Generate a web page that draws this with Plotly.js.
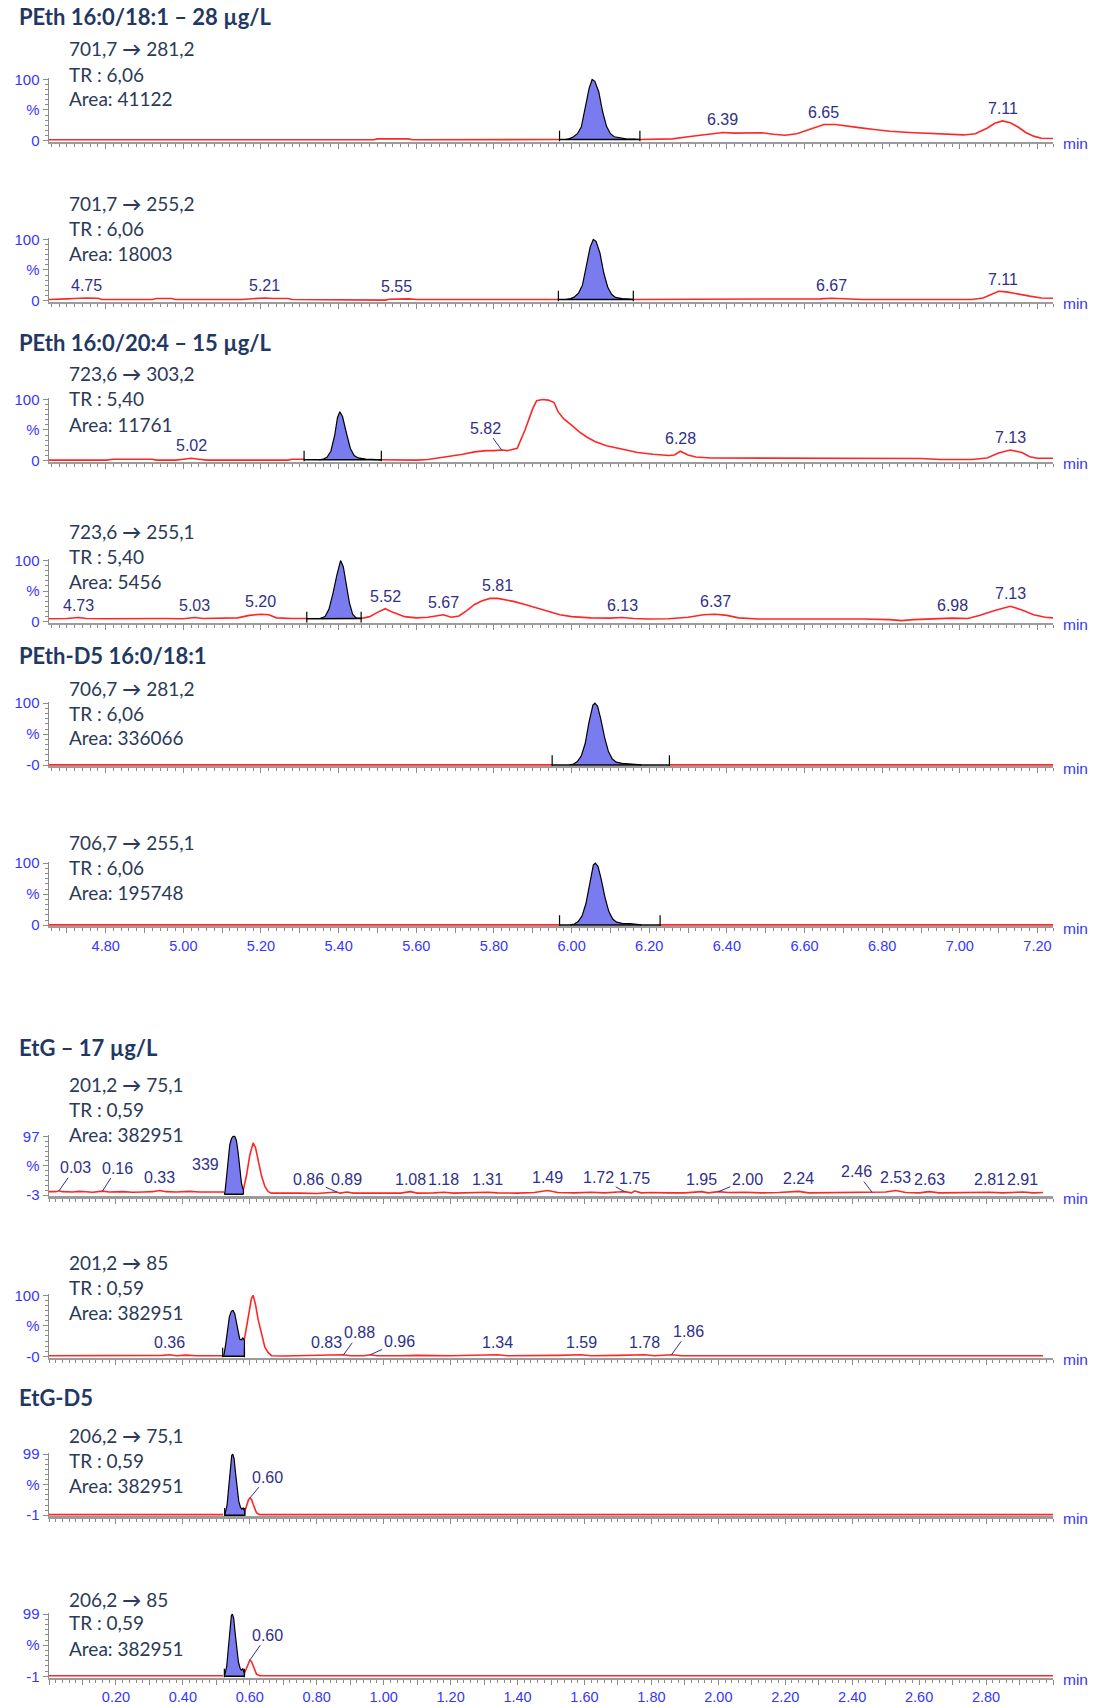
<!DOCTYPE html>
<html><head><meta charset="utf-8">
<script src="https://cdn.plot.ly/plotly-3.0.1.min.js"></script>
<style>html,body{margin:0;padding:0;background:#fff}#chart{width:1095px;height:1706px}</style>
</head><body><div id="chart"></div>
<script>
// ================= DATA =================
const titles = ["PEth 16:0/18:1 – 28 µg/L", "PEth 16:0/20:4 – 15 µg/L", "PEth-D5 16:0/18:1", "EtG – 17 µg/L", "EtG-D5"];

const peth_range = [4.654, 7.24];
const etg_range = [0, 3.0];
const peth_tick_labels = ["4.80","5.00","5.20","5.40","5.60","5.80","6.00","6.20","6.40","6.60","6.80","7.00","7.20"];
const etg_tick_labels = ["0.20","0.40","0.60","0.80","1.00","1.20","1.40","1.60","1.80","2.00","2.20","2.40","2.60","2.80"];

const p1_info = ["701,7 → 281,2", "TR : 6,06", "Area: 41122"];
const p2_info = ["701,7 → 255,2", "TR : 6,06", "Area: 18003"];
const p3_info = ["723,6 → 303,2", "TR : 5,40", "Area: 11761"];
const p4_info = ["723,6 → 255,1", "TR : 5,40", "Area: 5456"];
const p5_info = ["706,7 → 281,2", "TR : 6,06", "Area: 336066"];
const p6_info = ["706,7 → 255,1", "TR : 6,06", "Area: 195748"];
const p7_info = ["201,2 → 75,1", "TR : 0,59", "Area: 382951"];
const p8_info = ["201,2 → 85", "TR : 0,59", "Area: 382951"];
const p9_info = ["206,2 → 75,1", "TR : 0,59", "Area: 382951"];
const p10_info = ["206,2 → 85", "TR : 0,59", "Area: 382951"];

const p1_yticks = ["0","%","100"];
const p2_yticks = ["0","%","100"];
const p3_yticks = ["0","%","100"];
const p4_yticks = ["0","%","100"];
const p5_yticks = ["-0","%","100"];
const p6_yticks = ["0","%","100"];
const p7_yticks = ["-3","%","97"];
const p8_yticks = ["-0","%","100"];
const p9_yticks = ["-1","%","99"];
const p10_yticks = ["-1","%","99"];

// chromatogram traces [time, %]; null = integrated window
const p1_trace = [[4.654,1],[5.00,1],[5.30,1],[5.49,1],[5.50,2.5],[5.58,2.5],[5.59,1],[5.80,1],[5.93,1],[5.94,2],[5.95,1.5],[5.969,1.5],null,[6.176,1.5],[6.22,1.5],[6.26,2.5],[6.30,6],[6.34,9],[6.37,12],[6.39,13],[6.42,12],[6.46,12],[6.49,12.5],[6.52,10],[6.55,8.5],[6.58,11],[6.61,17],[6.63,22],[6.65,26],[6.68,26],[6.71,24],[6.74,21],[6.78,18],[6.82,15],[6.87,13],[6.92,12],[6.97,10],[7.01,9],[7.04,11],[7.07,20],[7.09,28],[7.11,32],[7.13,29],[7.15,22],[7.17,13],[7.19,7],[7.21,3.5],[7.24,3]];
const p1_peak = [[5.985,1.5],[5.995,3],[6.005,6],[6.015,11],[6.025,22],[6.035,52],[6.045,85],[6.053,100],[6.06,97],[6.07,80],[6.08,47],[6.09,23],[6.10,11],[6.11,6],[6.125,4],[6.14,2.5],[6.16,2],[6.176,1.5]];
const p1_window = [5.969, 6.176];
const p1_label_t = [6.39, 6.65, 7.11];

const p2_trace = [[4.654,1.5],[4.69,1.5],[4.70,2.5],[4.72,3],[4.75,4],[4.78,3.5],[4.79,1.5],[4.92,1.5],[4.93,3],[4.97,3],[4.98,1.5],[5.15,1.5],[5.18,2.5],[5.21,4],[5.23,3],[5.27,3],[5.28,1.5],[5.42,1.5],[5.43,0.5],[5.52,0.5],[5.53,2],[5.56,3],[5.58,2.5],[5.60,1.5],[5.66,1.5],[5.68,2.5],[5.72,2.5],[5.74,1.5],[5.90,1.5],[5.966,1.5],null,[6.159,1.5],[6.30,1.5],[6.42,1.5],[6.50,1.5],[6.60,1.5],[6.64,2.5],[6.67,3.5],[6.70,2.5],[6.75,1.5],[6.90,1.5],[7.03,1.5],[7.06,4],[7.08,10],[7.10,15],[7.12,14],[7.15,10],[7.18,7],[7.21,4],[7.24,3.5]];
const p2_peak = [[5.985,1.5],[5.998,3],[6.008,6],[6.018,12],[6.028,25],[6.038,55],[6.048,88],[6.056,100],[6.063,97],[6.073,78],[6.083,45],[6.093,22],[6.103,10],[6.113,5],[6.13,3],[6.15,2],[6.159,1.5]];
const p2_window = [5.966, 6.159];
const p2_label_t = [4.75, 5.21, 5.55, 6.67, 7.11];

const p3_trace = [[4.654,0.5],[4.80,0.5],[4.82,2],[4.92,2],[4.93,0.5],[4.98,0.5],[5.00,2],[5.02,3.5],[5.04,2],[5.06,0.5],[5.27,0.5],[5.28,2],[5.311,2],null,[5.51,1],[5.55,0.5],[5.60,0.5],[5.63,1.5],[5.66,4],[5.69,7],[5.72,10],[5.75,14],[5.78,16],[5.80,16],[5.82,17],[5.835,16],[5.85,19],[5.86,20],[5.88,50],[5.90,85],[5.91,98],[5.925,100],[5.94,99],[5.955,95],[5.965,80],[5.98,68],[6.00,58],[6.02,47],[6.04,38],[6.06,31],[6.09,24],[6.13,18],[6.17,13],[6.21,10],[6.25,8],[6.265,9],[6.28,15],[6.30,9],[6.32,5.5],[6.36,4],[6.50,3.5],[6.62,3],[6.80,3],[6.90,3],[6.95,1.5],[7.03,1.5],[7.07,4],[7.10,12],[7.13,17],[7.16,13],[7.18,6],[7.20,3.5],[7.24,3.5]];
const p3_peak = [[5.35,1],[5.36,2],[5.37,5],[5.38,15],[5.39,42],[5.397,70],[5.403,80],[5.41,72],[5.42,45],[5.43,20],[5.44,8],[5.45,4],[5.47,2],[5.49,1.5],[5.51,1]];
const p3_window = [5.311, 5.51];
const p3_label_t = [5.02, 5.82, 6.28, 7.13];

const p4_trace = [[4.654,4.5],[4.68,4.5],[4.70,5],[4.73,6.5],[4.75,5],[4.80,4.5],[4.85,5],[4.90,4.5],[4.95,5],[5.00,4.5],[5.03,6.5],[5.05,5],[5.10,5],[5.14,6],[5.17,10],[5.20,12],[5.22,11],[5.24,6],[5.28,5],[5.318,5],null,[5.458,5],[5.48,8],[5.50,15],[5.52,21],[5.54,15],[5.57,8],[5.60,6],[5.63,7],[5.65,9],[5.67,11],[5.69,7],[5.71,9],[5.73,18],[5.75,28],[5.77,34],[5.79,38],[5.81,38],[5.83,36],[5.85,33],[5.88,28],[5.91,22],[5.94,16],[5.97,11],[6.00,8],[6.05,6],[6.10,5.5],[6.13,6.5],[6.16,5],[6.20,4],[6.25,4.5],[6.30,7],[6.34,11],[6.37,12],[6.40,10],[6.43,6],[6.48,4],[6.55,4],[6.65,4.5],[6.75,4],[6.82,3],[6.85,1.5],[6.88,3],[6.93,4.5],[6.98,5.5],[7.02,5],[7.05,10],[7.09,18],[7.13,25],[7.16,19],[7.19,11],[7.22,7],[7.24,6]];
const p4_peak = [[5.35,4.5],[5.365,8],[5.375,20],[5.385,45],[5.395,75],[5.405,100],[5.412,90],[5.42,60],[5.428,30],[5.436,12],[5.445,6],[5.458,5]];
const p4_window = [5.318, 5.458];
const p4_label_t = [4.73, 5.03, 5.20, 5.52, 5.67, 5.81, 6.13, 6.37, 6.98, 7.13];

const p5_trace = [[4.654,0.5],[5.95,0.5],null,[6.252,0.5],[7.24,0.5]];
const p5_peak = [[5.995,0.5],[6.005,2],[6.015,6],[6.025,15],[6.035,35],[6.045,70],[6.055,97],[6.06,100],[6.067,95],[6.075,75],[6.085,45],[6.095,22],[6.105,10],[6.115,5],[6.13,3],[6.15,2],[6.17,1.5],[6.18,0.5]];
const p5_window = [5.95, 6.252];
const p5_label_t = [];

const p6_trace = [[4.654,0.5],[5.969,0.5],null,[6.228,0.5],[7.24,0.5]];
const p6_peak = [[5.997,0.5],[6.007,2],[6.017,6],[6.027,15],[6.037,35],[6.047,70],[6.056,97],[6.061,100],[6.068,95],[6.076,75],[6.086,45],[6.096,22],[6.106,10],[6.116,5],[6.13,3],[6.15,2.5],[6.17,1.5],[6.18,0.5]];
const p6_window = [5.969, 6.228];
const p6_label_t = [];

const p7_trace = [[0.00,3],[0.02,3],[0.03,4.5],[0.04,3],[0.07,2.5],[0.09,3.5],[0.11,3],[0.13,2],[0.16,4],[0.18,2.5],[0.22,3],[0.25,2],[0.28,2.5],[0.31,3],[0.33,5],[0.35,3],[0.38,2.5],[0.42,3.5],[0.45,2.5],[0.49,3],[0.524,2.5],null,[0.581,7],[0.59,30],[0.60,65],[0.61,86],[0.617,78],[0.625,55],[0.635,30],[0.645,12],[0.655,3],[0.665,0.5],[0.70,0],[0.75,0.5],[0.80,0],[0.84,1],[0.86,2.5],[0.87,0.5],[0.89,2.5],[0.91,0.5],[0.95,0.5],[1.00,1],[1.05,0.5],[1.08,3],[1.10,0.5],[1.15,1],[1.18,2],[1.21,0.5],[1.26,1],[1.31,2],[1.34,1],[1.40,0.5],[1.45,1.5],[1.49,5],[1.52,1.5],[1.57,1],[1.62,2],[1.66,1],[1.70,2.5],[1.72,3],[1.74,1],[1.75,4],[1.77,1],[1.80,1.5],[1.85,1],[1.90,1],[1.95,3],[1.97,1],[2.00,3],[2.03,1.5],[2.08,2],[2.13,1],[2.18,1.5],[2.24,3.5],[2.27,1],[2.33,1.5],[2.40,1],[2.46,1.5],[2.50,2.5],[2.53,5],[2.56,1.5],[2.60,1],[2.63,3],[2.66,1],[2.72,1.5],[2.77,1],[2.81,2],[2.85,1],[2.91,2.5],[2.94,1],[2.97,1.5]];
const p7_peak = [[0.524,-1.5],[0.526,3],[0.53,25],[0.535,60],[0.54,82],[0.545,93],[0.55,97],[0.555,97],[0.56,90],[0.565,70],[0.57,42],[0.575,18],[0.579,8],[0.581,7],[0.581,-1.5]];
const p7_window = [0.524, 0.581];
const p7_label_t = [0.03, 0.16, 0.33, 0.86, 0.89, 1.08, 1.18, 1.31, 1.49, 1.72, 1.75, 1.95, 2.00, 2.24, 2.46, 2.53, 2.63, 2.81, 2.91];
const p7_odd_label_text = "339";
const p7_odd_label_t = 0.467;

const p8_trace = [[0.00,1],[0.05,1],[0.10,1.5],[0.15,1],[0.20,1],[0.25,1.5],[0.30,1],[0.34,1.5],[0.36,2.5],[0.38,1],[0.41,2],[0.44,1],[0.48,1],[0.519,1],null,[0.584,28],[0.595,65],[0.605,95],[0.61,100],[0.617,85],[0.625,60],[0.635,35],[0.645,15],[0.655,6],[0.665,1],[0.70,0.5],[0.75,1],[0.80,1],[0.83,2],[0.85,1.5],[0.88,2.5],[0.90,1],[0.94,1],[0.96,2.5],[0.98,1],[1.05,1],[1.10,1.5],[1.20,1],[1.30,1.5],[1.34,2.5],[1.37,1],[1.45,1],[1.52,1.5],[1.59,2.5],[1.62,1],[1.70,1.5],[1.78,2.5],[1.81,1],[1.86,2.5],[1.89,1],[2.00,1],[2.10,1.5],[2.20,1],[2.30,1.5],[2.40,1],[2.50,1.5],[2.60,1],[2.70,1.5],[2.80,1],[2.90,1.5],[2.97,1]];
const p8_peak = [[0.52,0],[0.523,3],[0.528,20],[0.533,45],[0.539,65],[0.545,74],[0.55,75],[0.555,70],[0.56,55],[0.565,38],[0.57,28],[0.575,27],[0.579,30],[0.582,28],[0.584,27],[0.584,0]];
const p8_window = [0.519, 0.584];
const p8_label_t = [0.36, 0.83, 0.88, 0.96, 1.34, 1.59, 1.78, 1.86];

const p9_trace = [[0.00,0],[0.52,0],null,[0.585,5],[0.59,15],[0.596,24],[0.60,27],[0.605,25],[0.61,17],[0.615,8],[0.62,3],[0.625,1],[0.63,0],[3.0,0]];
const p9_peak = [[0.525,-1],[0.527,3],[0.532,15],[0.537,45],[0.542,80],[0.546,97],[0.549,99],[0.553,92],[0.557,70],[0.562,42],[0.567,22],[0.572,12],[0.576,9],[0.58,11],[0.583,6],[0.585,5],[0.585,-1]];
const p9_window = [0.525, 0.585];
const p9_label_t = [0.60];

const p10_trace = [[0.00,0],[0.52,0],null,[0.584,4],[0.59,13],[0.596,22],[0.60,25],[0.605,23],[0.61,15],[0.615,7],[0.62,2.5],[0.625,1],[0.63,0],[3.0,0]];
const p10_peak = [[0.524,-1],[0.526,3],[0.531,15],[0.536,45],[0.541,80],[0.545,97],[0.548,99],[0.552,92],[0.556,70],[0.561,42],[0.566,22],[0.571,12],[0.575,9],[0.579,11],[0.582,6],[0.584,4],[0.584,-1]];
const p10_window = [0.524, 0.584];
const p10_label_t = [0.60];

// ================= LAYOUT / STYLE =================
const W = 1095, H = 1706;
const AX_L = 49, AX_R = 1053;
const panelPx = [[79.5,140.4],[239.5,300.4],[399.5,460.4],[560.6,621.5],[703.2,765.2],[863.2,925.2],[1136.4,1195.2],[1295.3,1356.3],[1454.2,1515.2],[1614.2,1676.3]];
const infoPx = [[49,74,99],[203.5,228.6,253.6],[373.4,398.4,424.5],[531.2,556.2,581.3],[688,713,738],[842.5,867.5,892.6],[1084.1,1109.2,1134.2],[1262.7,1287.7,1312.7],[1435.7,1460.8,1485.8],[1599,1622.9,1648]];
const titlePx = [16.3, 342.9, 655.3, 1047.1, 1397.6];
const markerTop = [16,16,16,16,16,16,0,14,12,12];
const leaderOffsets = {
  '3:5.82':[-16,-22],
  '7:0.03':[16,-23], '7:0.16':[14.5,-23], '7:0.86':[-28,-12], '7:1.72':[-26,-14], '7:2.00':[29,-12], '7:2.46':[-16,-21],
  '8:0.88':[16,-22], '8:0.96':[29,-13], '8:1.86':[17,-23.5],
  '9:0.60':[17.5,-21], '10:0.60':[17.5,-25]
};
const RED = '#ff2626', FILL = '#7b7bf0', TICKBLUE = '#3636ff', LBLBLUE = '#30308a';
const INFOCOL = '#2b3a58', TITLECOL = '#1f3864';
const TICKFONT = 'Liberation Sans, Arial, sans-serif';
const TEXTFONT = 'Lato, Carlito, Calibri, sans-serif';

const panels = [
  {tr:p1_trace, pk:p1_peak, win:p1_window, lb:p1_label_t, yt:p1_yticks, info:p1_info, grp:'peth'},
  {tr:p2_trace, pk:p2_peak, win:p2_window, lb:p2_label_t, yt:p2_yticks, info:p2_info, grp:'peth'},
  {tr:p3_trace, pk:p3_peak, win:p3_window, lb:p3_label_t, yt:p3_yticks, info:p3_info, grp:'peth'},
  {tr:p4_trace, pk:p4_peak, win:p4_window, lb:p4_label_t, yt:p4_yticks, info:p4_info, grp:'peth'},
  {tr:p5_trace, pk:p5_peak, win:p5_window, lb:p5_label_t, yt:p5_yticks, info:p5_info, grp:'peth'},
  {tr:p6_trace, pk:p6_peak, win:p6_window, lb:p6_label_t, yt:p6_yticks, info:p6_info, grp:'peth', bottom:true},
  {tr:p7_trace, pk:p7_peak, win:p7_window, lb:p7_label_t, yt:p7_yticks, info:p7_info, grp:'etg'},
  {tr:p8_trace, pk:p8_peak, win:p8_window, lb:p8_label_t, yt:p8_yticks, info:p8_info, grp:'etg'},
  {tr:p9_trace, pk:p9_peak, win:p9_window, lb:p9_label_t, yt:p9_yticks, info:p9_info, grp:'etg'},
  {tr:p10_trace, pk:p10_peak, win:p10_window, lb:p10_label_t, yt:p10_yticks, info:p10_info, grp:'etg', bottom:true}
];

function split(p){ const x=[],y=[]; p.forEach(d=>{ if(d===null){x.push(null);y.push(null);} else {x.push(d[0]);y.push(d[1]);} }); return {x,y}; }
function valueAt(p,t){ for(let i=0;i<p.length-1;i++){ const a=p[i],b=p[i+1]; if(!a||!b) continue; if(t>=a[0]&&t<=b[0]){ const f=(t-a[0])/((b[0]-a[0])||1); return a[1]+f*(b[1]-a[1]); } } return 0; }
function infoHtml(s){ return s.replace('→', '<b>→</b>'); }

const data = [], annotations = [];
const layout = {width:W, height:H, margin:{l:0,r:0,t:0,b:0}, paper_bgcolor:'#fff', plot_bgcolor:'rgba(0,0,0,0)', showlegend:false, annotations};

panels.forEach((P,i)=>{
  const n = i+1, xa = 'x'+n, ya = 'y'+n;
  const lo = parseFloat(P.yt[0]), hi = parseFloat(P.yt[2]);
  const pad = 0.02*(hi-lo);
  const [topPx, botPx] = panelPx[i];
  const padPx = 0.02*(botPx-topPx);
  const xr = P.grp==='peth' ? peth_range : etg_range;
  const labels = P.grp==='peth' ? peth_tick_labels : etg_tick_labels;
  const tv=[], tt=[];
  for (let v=Math.ceil(xr[0]*10)/10; v<=xr[1]+1e-9; v=Math.round((v+0.1)*10)/10){
    tv.push(v); const s=v.toFixed(2); tt.push(labels.indexOf(s)>=0 ? s : '');
  }
  layout['xaxis'+n] = {
    anchor: ya, domain:[AX_L/W, AX_R/W], range: xr, fixedrange:true,
    showline:true, linecolor:'#9c9c9c', linewidth: P.grp==='peth'?2:2.5,
    showgrid:false, zeroline:false,
    ticks:'outside', ticklen:5, tickwidth:1, tickcolor:'#8a8a8a',
    tickmode:'array', tickvals:tv, ticktext:tt, showticklabels: !!P.bottom,
    tickfont:{family:TICKFONT, size:14.5, color:TICKBLUE},
    minor:{ticks:'outside', ticklen:3, tickwidth:1, tickcolor:'#8a8a8a', tick0:0, dtick:0.02, showgrid:false}
  };
  layout['yaxis'+n] = {
    anchor: xa, domain:[1-(botPx+padPx)/H, 1-(topPx-padPx)/H], range:[lo-pad, hi+pad], fixedrange:true,
    showline:true, linecolor:'#8c8c8c', linewidth:1.5, showgrid:false, zeroline:false,
    ticks:'outside', ticklen:5, tickwidth:1, tickcolor:'#8c8c8c',
    tickmode:'array', tickvals:[lo,(lo+hi)/2,hi], ticktext:P.yt,
    tickfont:{family:TICKFONT, size:15, color:TICKBLUE},
    minor:{ticks:'outside', ticklen:3, tickwidth:1, tickcolor:'#8c8c8c', tick0:lo, dtick:(hi-lo)/12, showgrid:false}
  };
  const r = split(P.tr);
  data.push({type:'scatter', mode:'lines', x:r.x, y:r.y, xaxis:xa, yaxis:ya, line:{color:RED, width:1.6}, connectgaps:false, hoverinfo:'skip'});
  const k = split(P.pk);
  data.push({type:'scatter', mode:'lines', x:k.x, y:k.y, xaxis:xa, yaxis:ya, fill:'toself', fillcolor:FILL, line:{color:'#000', width:1.2}, hoverinfo:'skip'});
  const b0 = P.pk[0][1], b1 = P.pk[P.pk.length-1][1];
  data.push({type:'scatter', mode:'lines', x:[P.win[0],P.win[1]], y:[b0,b1], xaxis:xa, yaxis:ya, line:{color:'#000', width:1.5}, hoverinfo:'skip'});
  if (markerTop[i] > 0){
    data.push({type:'scatter', mode:'lines', x:[P.win[0],P.win[0],null,P.win[1],P.win[1]], y:[lo-pad,markerTop[i]+lo,null,lo-pad,markerTop[i]+lo], xaxis:xa, yaxis:ya, line:{color:'#000', width:1.2}, hoverinfo:'skip'});
  }
  P.lb.forEach(t=>{
    const key = n+':'+t.toFixed(2);
    const yv = valueAt(P.tr, t);
    const off = leaderOffsets[key];
    if (off){
      annotations.push({xref:xa, yref:ya, x:t, y:yv, text:t.toFixed(2), showarrow:true, arrowhead:0, arrowwidth:1, arrowcolor:LBLBLUE, standoff:0, ax:off[0], ay:off[1], font:{family:TICKFONT, size:16, color:LBLBLUE}});
    } else {
      annotations.push({xref:xa, yref:ya, x:t, y:yv, text:t.toFixed(2), showarrow:false, yanchor:'bottom', yshift:2, font:{family:TICKFONT, size:16, color:LBLBLUE}});
    }
  });
  if (n===7){
    annotations.push({xref:xa, yref:ya, x:p7_odd_label_t, y:valueAt(P.tr,p7_odd_label_t), text:p7_odd_label_text, showarrow:false, yanchor:'bottom', yshift:17, font:{family:TICKFONT, size:16, color:LBLBLUE}});
  }
  P.info.forEach((s,j)=>{
    annotations.push({xref:'paper', yref:'paper', x:67/W, y:1-infoPx[i][j]/H, xanchor:'left', yanchor:'middle', text:infoHtml(s), showarrow:false, font:{family:TEXTFONT, size:19, color:INFOCOL}});
  });
  annotations.push({xref:'paper', yref:'paper', x:1061/W, y:1-(botPx+3)/H, xanchor:'left', yanchor:'middle', text:'min', showarrow:false, font:{family:TICKFONT, size:15.5, color:TICKBLUE}});
});

titles.forEach((s,j)=>{
  annotations.push({xref:'paper', yref:'paper', x:17/W, y:1-titlePx[j]/H, xanchor:'left', yanchor:'middle', text:'<b>'+s+'</b>', showarrow:false, font:{family:TEXTFONT, size:22, color:TITLECOL}});
});

Plotly.newPlot('chart', data, layout, {displayModeBar:false, staticPlot:true});
</script>
</body></html>
